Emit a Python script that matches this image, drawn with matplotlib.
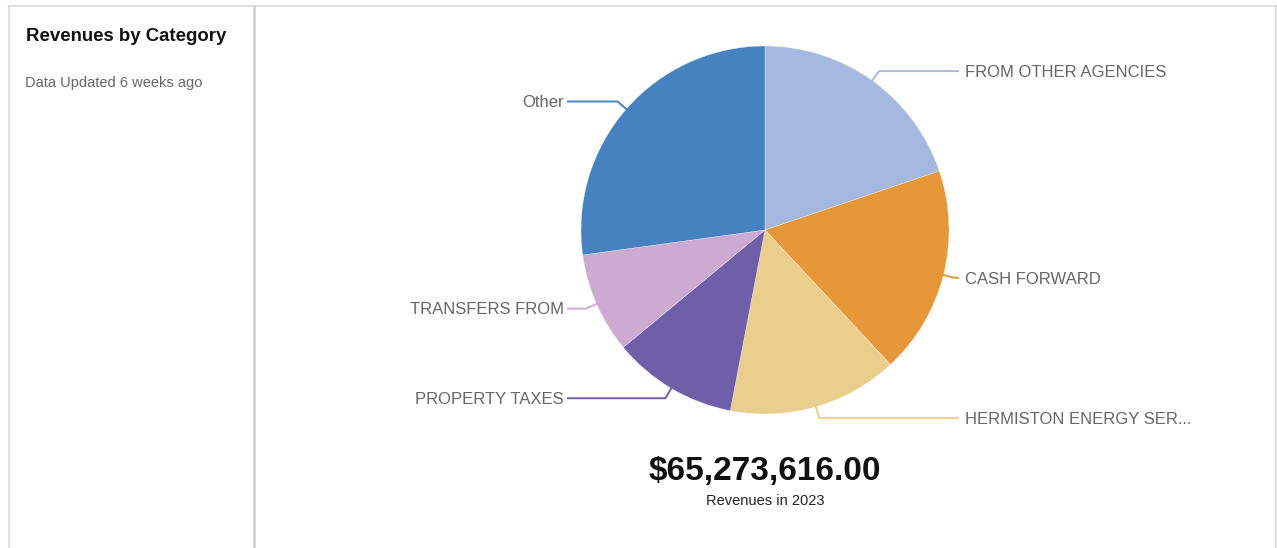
import matplotlib
matplotlib.use('Agg')
import matplotlib.pyplot as plt
import numpy as np

# slice data, clockwise from 12 o'clock (values in dollars)
categories = ['FROM OTHER AGENCIES', 'CASH FORWARD', 'HERMISTON ENERGY SER...',
              'PROPERTY TAXES', 'TRANSFERS FROM', 'Other']
revenues = [12930000, 11910000, 9770000, 7160000, 5770000, 17733616]
colors = ['#a3b9df', '#e69738', '#e9cf8b', '#6f5ea8', '#cdaad2', '#4681c0']
total_label = '$65,273,616.00'
year = 2023

W, H = 1277, 548
plt.rcParams['font.family'] = ['Liberation Sans', 'DejaVu Sans']

fig = plt.figure(figsize=(W / 100, H / 100), dpi=100)
ax = fig.add_axes([0, 0, 1, 1])

def Y(y):
    # image-style y (from top) to axes y
    return H - y

cx, cy, R = 765, Y(230), 184
wedges, _ = ax.pie(revenues, colors=colors, startangle=90, counterclock=False,
                   center=(cx, cy), radius=R,
                   wedgeprops=dict(edgecolor='white', linewidth=0.2))
ax.set_xlim(0, W); ax.set_ylim(0, H)
ax.set_aspect('equal')
ax.axis('off')

# leader lines + labels
for w, name, c in zip(wedges, categories, colors):
    mid = np.deg2rad((w.theta1 + w.theta2) / 2)
    ux, uy = np.cos(mid), np.sin(mid)
    p0 = (cx + R * ux, cy + R * uy)
    p1 = (cx + (R + 11.5) * ux, cy + (R + 11.5) * uy)
    if ux >= 0:
        xe, xt, ha = cx + 193, cx + 200, 'left'
    else:
        xe, xt, ha = cx - 197, cx - 201, 'right'
    ax.plot([p0[0], p1[0], xe], [p0[1], p1[1], p1[1]], color=c, lw=1.4,
            solid_joinstyle='miter')
    ax.text(xt, p1[1] - 5.8, name, ha=ha, va='baseline', fontsize=12, color='#666666')

# total under the pie
ax.text(cx, Y(480), total_label, ha='center', va='baseline', fontsize=24,
        fontweight='bold', color='#111111')
ax.text(cx, Y(505), f'Revenues in {year}', ha='center', va='baseline', fontsize=10.5,
        color='#222222')

# side panel text
ax.text(26, Y(41), 'Revenues by Category', ha='left', va='baseline', fontsize=13.4,
        fontweight='bold', color='#111111')
ax.text(25, Y(87), 'Data Updated 6 weeks ago', ha='left', va='baseline', fontsize=10.5,
        color='#666666')

# card borders
bc = '#d6d8db'
ax.plot([8.5, 1276], [Y(5.5), Y(5.5)], color=bc, lw=1.2)
ax.plot([8.5, 8.5], [Y(5.5), 0], color=bc, lw=1.2)
ax.plot([1276, 1276], [Y(5.5), 0], color=bc, lw=1.2)
ax.plot([254, 254], [Y(5.5), 0], color='#cdd1d6', lw=1.8)

fig.savefig('out.png', dpi=100, facecolor='white')
